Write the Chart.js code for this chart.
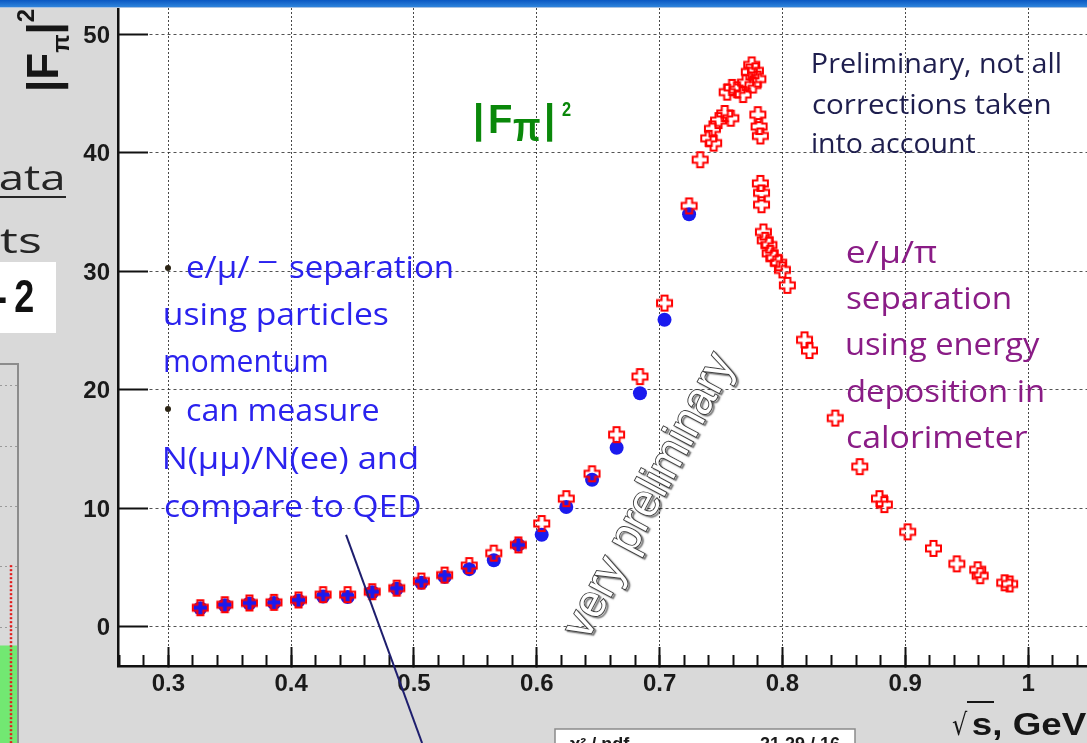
<!DOCTYPE html>
<html>
<head>
<meta charset="utf-8">
<title>|Fπ|² versus √s</title>
<script src="https://cdn.jsdelivr.net/npm/chart.js@4.4.1/dist/chart.umd.min.js"></script>
<style>
  html, body { margin: 0; padding: 0; }
  body { width: 1087px; height: 743px; overflow: hidden; position: relative; background: #d9d9d9; }
  #side { position: absolute; left: -150px; top: 363px; }
  #main { position: absolute; left: 0; top: 0; }
</style>
</head>
<body>
<canvas id="side" width="170" height="380"></canvas>
<canvas id="main" width="1087" height="743"></canvas>
<script>
Chart.defaults.font.family = '"Liberation Sans", Arial, sans-serif';

// |F_pi|^2 with e/mu/pi separated by particle momentum (blue dots)
const momentumEnergy = [0.326, 0.346, 0.366, 0.386, 0.406, 0.426, 0.446, 0.466, 0.486, 0.506, 0.525,
  0.545, 0.565, 0.585, 0.604, 0.624, 0.645, 0.665, 0.684, 0.704, 0.724];
const momentumFormFactor = [1.55, 1.8, 1.95, 2.0, 2.2, 2.55, 2.5, 2.9, 3.2, 3.7, 4.2,
  4.85, 5.6, 6.9, 7.75, 10.1, 12.4, 15.1, 19.7, 25.9, 34.8];

// |F_pi|^2 with separation by energy deposition in the calorimeter (red crosses)
const caloEnergy = [0.326, 0.346, 0.366, 0.386, 0.406, 0.426, 0.446, 0.466, 0.486, 0.506, 0.525,
  0.545, 0.565, 0.585, 0.604, 0.624, 0.645, 0.665, 0.684, 0.704, 0.724,
  0.733, 0.740, 0.744, 0.743, 0.748, 0.753, 0.758, 0.755, 0.759, 0.763, 0.768, 0.770, 0.773, 0.775,
  0.778, 0.780, 0.776, 0.780, 0.781, 0.782, 0.782, 0.783, 0.783, 0.7845, 0.786, 0.789, 0.790, 0.793,
  0.797, 0.800, 0.804, 0.818, 0.822, 0.843, 0.863, 0.879, 0.883, 0.902, 0.923, 0.942, 0.959, 0.961,
  0.981, 0.985];
const caloFormFactor = [1.6, 1.85, 2.0, 2.05, 2.25, 2.7, 2.7, 2.95, 3.25, 3.85, 4.35,
  5.15, 6.2, 6.9, 8.7, 10.8, 12.9, 16.2, 21.1, 27.3, 35.5,
  39.4, 41.2, 40.8, 42.0, 42.7, 43.3, 42.9, 45.1, 45.5, 45.3, 44.9, 45.9, 46.8, 47.4,
  46.9, 46.2, 45.7, 43.2, 42.2, 41.4, 37.4, 36.6, 35.6, 33.3, 32.6, 32.2, 31.5, 31.1,
  30.7, 30.1, 28.8, 24.2, 23.3, 17.6, 13.5, 10.8, 10.3, 8.0, 6.6, 5.3, 4.8, 4.3,
  3.7, 3.6];

// pointer line running from the momentum note down past the axis
const pointerEnergy = [0.4447, 0.5066];
const pointerValue = [7.74, -9.82];

// axis ranges and tick steps
const energyRange = [0.259, 1.048];
const formFactorRange = [-3.32, 52.2];
const energyMajorStep = 0.1;
const energyMinorStep = 0.02;
const formFactorStep = 10;

// neighbouring histogram, only its right edge shows
const sideBinEdges = [1.0, 1.2];
const sideCounts = [0.7];
const sideMarkerX = [1.15, 1.15];
const sideMarkerY = [2.03, -0.917];
const sideRange = [-0.917, 5.364];

const toPoints = (xs, ys) => xs.map((x, i) => ({ x, y: ys[i] }));

function makeOpenCross(size, arm, color, lw) {
  const c = document.createElement('canvas');
  c.width = c.height = size + 4;
  const g = c.getContext('2d');
  const m = c.width / 2, h = size / 2, a = arm / 2;
  g.beginPath();
  g.moveTo(m - a, m - h); g.lineTo(m + a, m - h); g.lineTo(m + a, m - a); g.lineTo(m + h, m - a);
  g.lineTo(m + h, m + a); g.lineTo(m + a, m + a); g.lineTo(m + a, m + h); g.lineTo(m - a, m + h);
  g.lineTo(m - a, m + a); g.lineTo(m - h, m + a); g.lineTo(m - h, m - a); g.lineTo(m - a, m - a);
  g.closePath();
  g.strokeStyle = color; g.lineWidth = lw; g.lineJoin = 'miter';
  g.stroke();
  return c;
}

// draws text so that its ink starts at `left` and spans `width` pixels
function drawInk(ctx, text, left, baseline, width, font, color) {
  ctx.save();
  ctx.font = font;
  ctx.textAlign = 'left';
  ctx.textBaseline = 'alphabetic';
  const m = ctx.measureText(text);
  const ink = m.actualBoundingBoxLeft + m.actualBoundingBoxRight;
  const sx = width ? width / ink : 1;
  ctx.translate(left, baseline);
  ctx.scale(sx, 1);
  ctx.fillStyle = color;
  ctx.fillText(text, m.actualBoundingBoxLeft, 0);
  ctx.restore();
}

const noteFamily = '"Open Sans", "DejaVu Sans", sans-serif';
const momentumNotes = [
  ['e/μ/', 187, 278, 63],
  ['¯', 258, 287, 19],
  ['separation', 290, 278, 162],
  ['using particles', 165, 325, 223],
  ['momentum', 165, 372, 162],
  ['can measure', 187, 421, 191],
  ['N(μμ)/N(ee) and', 165, 469, 252],
  ['compare to QED', 165, 517, 255]
];
const calorimeterNotes = [
  ['e/μ/π', 847, 263, 90],
  ['separation', 847, 309, 163],
  ['using energy', 847, 355, 193],
  ['deposition in', 847, 402, 196],
  ['calorimeter', 847, 448, 181]
];
const cautionNotes = [
  ['Preliminary, not all', 813, 73, 247],
  ['corrections taken', 813, 114, 237],
  ['into account', 813, 153, 162]
];

const slideDecor = {
  id: 'slideDecor',
  beforeDraw(chart) {
    const { ctx, chartArea: a } = chart;
    ctx.save();
    ctx.fillStyle = '#ffffff';
    ctx.fillRect(a.left, a.top, a.right - a.left, a.bottom - a.top);
    ctx.fillRect(0, 262, 56, 71);
    ctx.restore();
  },
  beforeDatasetsDraw(chart) {
    const ctx = chart.ctx;
    // watermark
    ctx.save();
    ctx.translate(650, 496);
    ctx.rotate(-62 * Math.PI / 180);
    ctx.font = '46px "Liberation Sans"';
    ctx.textAlign = 'center';
    ctx.textBaseline = 'middle';
    const wm = 'very preliminary';
    const mm = ctx.measureText(wm);
    ctx.scale(315 / (mm.actualBoundingBoxLeft + mm.actualBoundingBoxRight), 1);
    ctx.shadowColor = 'rgba(0,0,0,0.6)';
    ctx.shadowOffsetX = 2; ctx.shadowOffsetY = 1.5; ctx.shadowBlur = 1.5;
    ctx.lineWidth = 1.8; ctx.strokeStyle = '#3a3a3a';
    ctx.strokeText(wm, 0, 0);
    ctx.shadowColor = 'transparent';
    ctx.fillStyle = '#ffffff';
    ctx.fillText(wm, 0, 0);
    ctx.restore();

    // green |F_pi|^2 label
    const gf = 'bold 40px "Liberation Sans"', green = '#0a880a';
    drawInk(ctx, '|', 476, 133, 0, gf, green);
    drawInk(ctx, 'F', 490, 133, 0, gf, green);
    drawInk(ctx, 'π', 513, 141, 27, gf, green);
    drawInk(ctx, '|', 547, 133, 0, gf, green);
    drawInk(ctx, '2', 562, 116, 9, 'bold 20px "Liberation Sans"', green);

    momentumNotes.forEach(([t, x, y, w]) => drawInk(ctx, t, x, y, w, '31px ' + noteFamily, '#2a22ee'));
    ctx.save();
    ctx.fillStyle = '#2b2414';
    [[168, 268], [168, 409]].forEach(([x, y]) => { ctx.beginPath(); ctx.arc(x, y, 3, 0, Math.PI * 2); ctx.fill(); });
    ctx.restore();
    calorimeterNotes.forEach(([t, x, y, w]) => drawInk(ctx, t, x, y, w, '31px ' + noteFamily, '#8a1c86'));
    cautionNotes.forEach(([t, x, y, w]) => drawInk(ctx, t, x, y, w, '27px ' + noteFamily, '#1e1e4e'));
  },
  afterDraw(chart) {
    const ctx = chart.ctx;
    // y axis title |F_pi|^2, rotated
    ctx.save();
    ctx.translate(58, 92);
    ctx.rotate(-Math.PI / 2);
    ctx.fillStyle = '#161616';
    ctx.textBaseline = 'alphabetic';
    const big = 'bold 44px "Liberation Sans"', small = 'bold 24px "Liberation Sans"';
    let x = 0;
    ctx.font = big; ctx.fillText('|F', x, 0); x += ctx.measureText('|F').width;
    ctx.font = small; ctx.fillText('π', x, 11); x += ctx.measureText('π').width;
    ctx.font = big; ctx.fillText('|', x, 0); x += ctx.measureText('|').width;
    ctx.font = small; ctx.fillText('2', x, -24);
    ctx.restore();

    // x axis title √s, GeV
    drawInk(ctx, 's, GeV', 973, 735, 114, 'bold 32px "Liberation Sans"', '#161616');
    drawInk(ctx, '√', 952, 735, 16, '30px "DejaVu Sans"', '#161616');
    ctx.save();
    ctx.fillStyle = '#161616';
    ctx.fillRect(967, 701, 27, 2);
    ctx.restore();

    // text at the left slide edge
    drawInk(ctx, 'ata', 0, 190, 63, '34px ' + noteFamily, '#262626');
    ctx.save(); ctx.fillStyle = '#262626'; ctx.fillRect(0, 196, 66, 2); ctx.restore();
    drawInk(ctx, 'ts', 0, 253, 40, '34px ' + noteFamily, '#262626');
    drawInk(ctx, '-', -4, 312, 10, 'bold 46px "Liberation Sans"', '#111111');
    drawInk(ctx, '2', 15, 312, 18, 'bold 46px "Liberation Sans"', '#111111');

    // statistics box of the fit below
    ctx.save();
    ctx.fillStyle = '#ffffff';
    ctx.fillRect(555, 729, 300, 30);
    ctx.strokeStyle = '#8a8a8a'; ctx.lineWidth = 1.5;
    ctx.strokeRect(555, 729, 300, 30);
    ctx.fillStyle = '#1a1a1a';
    ctx.font = 'bold 18px "Liberation Sans"';
    ctx.textBaseline = 'alphabetic';
    ctx.textAlign = 'left';
    ctx.fillText('χ² / ndf', 570, 750);
    ctx.textAlign = 'right';
    ctx.fillText('21.29 / 16', 840, 750);
    ctx.restore();

    // slide header bar
    ctx.save();
    const grad = ctx.createLinearGradient(0, 0, 0, 7);
    grad.addColorStop(0, '#0a58c2');
    grad.addColorStop(1, '#2f84dc');
    ctx.fillStyle = grad;
    ctx.fillRect(0, 0, 1087, 7);
    ctx.fillStyle = '#a9c3e2';
    ctx.fillRect(0, 7, 1087, 1);
    ctx.restore();
  }
};

const openCross = makeOpenCross(15, 6, '#ff0000', 2);

new Chart(document.getElementById('main'), {
  type: 'scatter',
  data: {
    datasets: [
      {
        label: 'pointer',
        data: toPoints(pointerEnergy, pointerValue),
        showLine: true,
        borderColor: '#1e1e6e',
        borderWidth: 2,
        pointRadius: 0,
        clip: false
      },
      {
        label: 'calorimeter separation',
        data: toPoints(caloEnergy, caloFormFactor),
        pointStyle: openCross,
        pointRadius: 8,
        borderColor: '#ff0000',
        backgroundColor: 'rgba(0,0,0,0)'
      },
      {
        label: 'momentum separation',
        data: toPoints(momentumEnergy, momentumFormFactor),
        pointStyle: 'circle',
        pointRadius: 7,
        borderWidth: 0,
        backgroundColor: '#1a1aee',
        borderColor: '#1a1aee'
      }
    ]
  },
  options: {
    responsive: false,
    animation: false,
    events: [],
    layout: { autoPadding: false, padding: { top: 8, left: 0, right: 0, bottom: 0 } },
    plugins: { legend: { display: false }, tooltip: { enabled: false } },
    scales: {
      x: {
        type: 'linear',
        position: 'bottom',
        weight: 1,
        min: energyRange[0],
        max: energyRange[1],
        afterFit: s => { s.height = 77; s.paddingLeft = 0; s.paddingRight = 0; },
        border: { display: true, color: '#111111', width: 2.5, dash: [2, 2] },
        grid: { color: 'rgba(40,40,40,0.85)', lineWidth: 1, drawTicks: true, tickLength: -19, tickColor: '#111111', tickWidth: 2 },
        ticks: {
          stepSize: energyMajorStep, includeBounds: false, autoSkip: false, maxRotation: 0,
          padding: 23, color: '#1a1a1a', font: { size: 24, weight: 'bold' },
          callback: v => String(+Number(v).toFixed(1))
        }
      },
      xMinor: {
        type: 'linear',
        position: 'bottom',
        weight: 0,
        min: energyRange[0],
        max: energyRange[1],
        afterFit: s => { s.height = 0; s.paddingLeft = 0; s.paddingRight = 0; },
        border: { display: false },
        grid: { drawOnChartArea: false, drawTicks: true, tickLength: -11, tickColor: '#111111', tickWidth: 2 },
        ticks: { stepSize: energyMinorStep, includeBounds: false, autoSkip: false, display: false }
      },
      y: {
        type: 'linear',
        position: 'left',
        min: formFactorRange[0],
        max: formFactorRange[1],
        afterFit: s => { s.width = 118; s.paddingTop = 0; s.paddingBottom = 0; },
        border: { display: true, color: '#111111', width: 2.5, dash: [3, 3] },
        grid: { color: 'rgba(40,40,40,0.8)', lineWidth: 1, drawTicks: true, tickLength: -30, tickColor: '#111111', tickWidth: 2 },
        ticks: {
          stepSize: formFactorStep, includeBounds: false, padding: 38, labelOffset: 2,
          color: '#1a1a1a', font: { size: 24, weight: 'bold' }
        }
      }
    }
  },
  plugins: [slideDecor]
});

const sideFrame = {
  id: 'sideFrame',
  afterDraw(chart) {
    const { ctx, chartArea: a } = chart;
    ctx.save();
    ctx.strokeStyle = '#8c8c8c';
    ctx.lineWidth = 2;
    ctx.beginPath();
    ctx.moveTo(a.left, a.top);
    ctx.lineTo(a.right, a.top);
    ctx.lineTo(a.right, a.bottom);
    ctx.stroke();
    ctx.restore();
  }
};

new Chart(document.getElementById('side'), {
  type: 'scatter',
  data: {
    datasets: [
      {
        data: toPoints(sideMarkerX, sideMarkerY),
        showLine: true,
        borderColor: '#e41a1a',
        borderWidth: 2.5,
        borderDash: [2, 2],
        pointRadius: 0
      },
      {
        data: [{ x: sideBinEdges[0], y: sideCounts[0] }, { x: sideBinEdges[1], y: sideCounts[0] }],
        showLine: true,
        fill: 'start',
        backgroundColor: '#72e872',
        borderWidth: 0,
        pointRadius: 0
      }
    ]
  },
  options: {
    responsive: false,
    animation: false,
    events: [],
    layout: { autoPadding: false, padding: { top: 1, right: 2, left: 0, bottom: 0 } },
    plugins: { legend: { display: false }, tooltip: { enabled: false } },
    scales: {
      x: { type: 'linear', min: 0, max: 1.2, display: false },
      y: {
        type: 'linear',
        position: 'left',
        min: sideRange[0],
        max: sideRange[1],
        afterFit: s => { s.width = 0; s.paddingTop = 0; s.paddingBottom = 0; },
        border: { display: false, dash: [2, 3] },
        grid: { color: '#9a9a9a', drawTicks: false },
        ticks: { display: false, stepSize: 1, includeBounds: false }
      }
    }
  },
  plugins: [sideFrame]
});
</script>
</body>
</html>
